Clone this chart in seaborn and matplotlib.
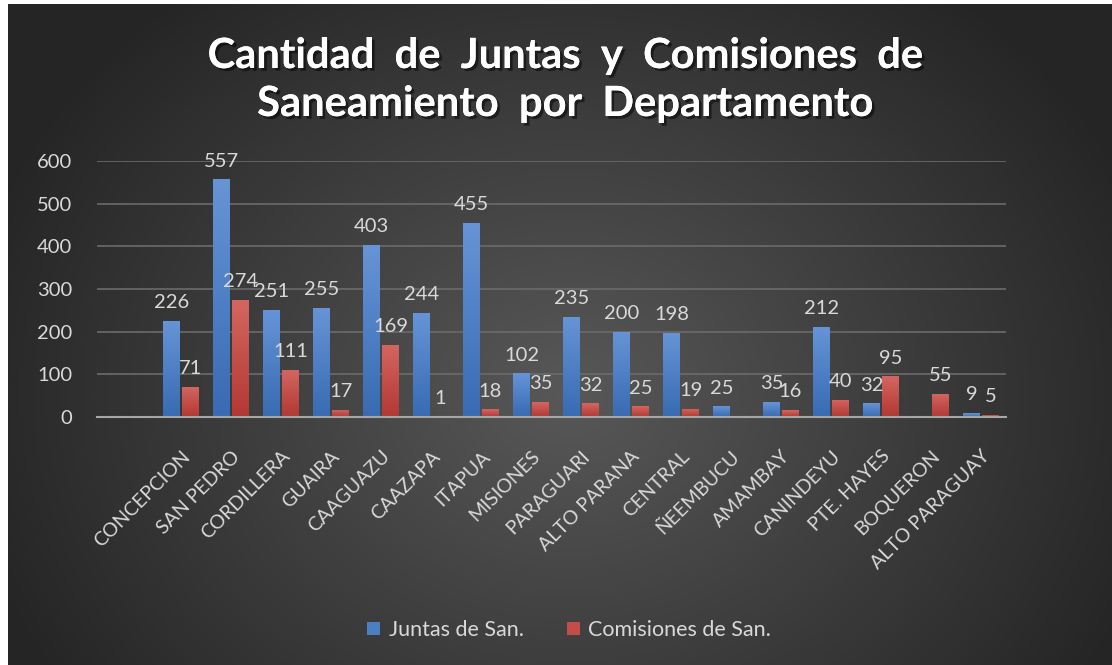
import numpy as np
import pandas as pd
import matplotlib
matplotlib.use("Agg")
import matplotlib.pyplot as plt
import matplotlib.patheffects as pe
from matplotlib.patches import Patch
import seaborn as sns

categories = ["CONCEPCION", "SAN PEDRO", "CORDILLERA", "GUAIRA", "CAAGUAZU", "CAAZAPA",
              "ITAPUA", "MISIONES", "PARAGUARI", "ALTO PARANA", "CENTRAL", "ÑEEMBUCU",
              "AMAMBAY", "CANINDEYU", "PTE. HAYES", "BOQUERON", "ALTO PARAGUAY"]
juntas = [226, 557, 251, 255, 403, 244, 455, 102, 235, 200, 198, 25, 35, 212, 32, None, 9]
comisiones = [71, 274, 111, 17, 169, 1, 18, 35, 32, 25, 19, None, 16, 40, 95, 55, 5]
series_names = ["Juntas de San.", "Comisiones de San."]
yticks = [0, 100, 200, 300, 400, 500, 600]
title_lines = ["Cantidad  de  Juntas  y  Comisiones  de", "Saneamiento  por  Departamento"]

sns.set_theme(style="dark")
plt.rcParams["font.family"] = ["Lato", "DejaVu Sans"]

W, H = 1112, 665
fig = plt.figure(figsize=(W / 100, H / 100), dpi=100)
fig.patch.set_facecolor("white")

# background radial gradient
bg = fig.add_axes([8 / W, 0, 1 - 8 / W, 1 - 4 / H], zorder=-10)
yy, xx = np.mgrid[0:661, 0:1104]
cx, cy = 560, 390
d = np.sqrt(((xx - cx) / 620.0) ** 2 + ((yy - cy) / 520.0) ** 2)
d = np.clip(d, 0, 1)
c0, c1 = 0x58, 0x25
g = (c0 + (c1 - c0) * d) / 255.0
img = np.dstack([g, g, g])
bg.imshow(img, aspect="auto", extent=[0, 1, 0, 1], origin="upper")
bg.set_axis_off()

df = pd.DataFrame({
    "cat": categories * 2,
    "serie": [series_names[0]] * len(categories) + [series_names[1]] * len(categories),
    "val": [np.nan if v is None else v for v in juntas] + [np.nan if v is None else v for v in comisiones],
})
df["plotval"] = df["val"].fillna(0)

ax = fig.add_axes([97 / W, 1 - 417 / H, (1006 - 97) / W, (417 - 161) / H])
ax.set_facecolor("none")
colors = ["#4a7fc4", "#c44d4a"]
sns.barplot(data=df, x="cat", y="plotval", hue="serie", order=categories,
            hue_order=series_names, palette=colors, width=0.76, gap=0.12,
            saturation=1, ax=ax, legend=False, zorder=3)

# gradient fill for bars
grads = [((0.40, 0.58, 0.84), (0.22, 0.42, 0.70)), ((0.83, 0.40, 0.38), (0.70, 0.22, 0.20))]
for ci, cont in enumerate(ax.containers):
    top, bot = grads[ci]
    grad = np.linspace(0, 1, 64)[:, None]
    gimg = np.dstack([top[k] + (bot[k] - top[k]) * grad for k in range(3)])
    for p in cont.patches:
        x0, y0 = p.get_x(), p.get_y()
        w, h = p.get_width(), p.get_height()
        if h <= 0:
            continue
        im = ax.imshow(gimg, extent=[x0, x0 + w, y0, y0 + h], aspect="auto",
                       origin="upper", zorder=3.5)
        im.set_clip_path(p)
        p.set_edgecolor("none")

vals_by_series = [juntas, comisiones]
for ci, cont in enumerate(ax.containers):
    labels = ["" if v is None else f"{v}" for v in vals_by_series[ci]]
    ax.bar_label(cont, labels=labels, padding=7, color="#d9d9d9", fontsize=14.5,
                 clip_on=False, zorder=5)

ax.set_xlim(-1.68, 16.5)
ax.set_ylim(0, 600)
ax.set_yticks(yticks)
ax.set_yticklabels([str(t) for t in yticks], color="#d9d9d9", fontsize=14.5)
ax.tick_params(axis="y", length=0, pad=18)
ax.tick_params(axis="x", length=0, pad=22)
ax.set_xticks(range(len(categories)))
ax.set_xticklabels(categories, rotation=45, ha="right", va="top",
                   rotation_mode="anchor", color="#d9d9d9", fontsize=14)
ax.set_xlabel("")
ax.set_ylabel("")
ax.grid(axis="y", color="#6b6b6b", linewidth=1.2, zorder=0)
ax.grid(axis="x", visible=False)
ax.set_axisbelow(True)
for s in ["top", "right", "left"]:
    ax.spines[s].set_visible(False)
ax.spines["bottom"].set_visible(True)
ax.spines["bottom"].set_color("#a6a6a6")
ax.spines["bottom"].set_linewidth(1.5)
ax.spines["bottom"].set_zorder(4)

shadow = [pe.withSimplePatchShadow(offset=(2, -2), shadow_rgbFace="black", alpha=0.5), pe.Normal()]
fig.text(0.508, 1 - 56 / H, title_lines[0], ha="center", va="center", color="white",
         fontsize=30, fontweight="bold", path_effects=shadow)
fig.text(0.508, 1 - 104 / H, title_lines[1], ha="center", va="center", color="white",
         fontsize=30, fontweight="bold", path_effects=shadow)

handles = [Patch(facecolor=colors[0], edgecolor="none"), Patch(facecolor=colors[1], edgecolor="none")]
fig.legend(handles, series_names, loc="center", bbox_to_anchor=(0.512, 1 - 630 / H), ncol=2,
           frameon=False, fontsize=15.5, labelcolor="#d9d9d9", handlelength=0.6,
           handleheight=0.6, handletextpad=0.4, columnspacing=2.0)

fig.savefig("out.png", dpi=100, facecolor=fig.get_facecolor())
